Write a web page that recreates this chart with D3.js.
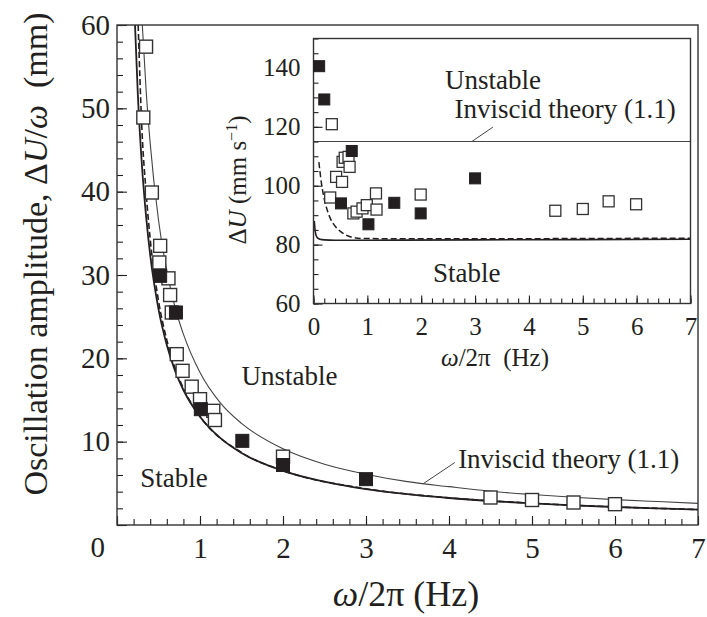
<!DOCTYPE html>
<html>
<head>
<meta charset="utf-8">
<script src="https://cdn.jsdelivr.net/npm/d3@7/dist/d3.min.js"></script>
<style>
  html, body { margin: 0; padding: 0; background: #fff; }
  svg text { font-family: "Liberation Serif", "Times New Roman", serif; fill: #231f20; }
</style>
</head>
<body>
<svg id="chart" width="707" height="617"></svg>
<script>
// ---------------- Data ----------------
// Main panel: oscillation amplitude ΔU/ω (mm) vs ω/2π (Hz)
const mainOpenF   = [0.317, 0.35, 0.42, 0.51, 0.52, 0.62, 0.64, 0.66, 0.72, 0.79, 0.90, 1.00, 1.16, 1.18, 2.00, 4.50, 5.00, 5.50, 6.00];
const mainOpenAmp = [48.9, 57.4, 39.9, 31.5, 33.5, 29.6, 27.6, 25.5, 20.5, 18.5, 16.6, 15.1, 13.7, 12.6, 8.2, 3.3, 3.0, 2.7, 2.5];
const mainFilledF   = [0.52, 0.71, 1.01, 1.51, 2.00, 3.00];
const mainFilledAmp = [29.9, 25.5, 13.9, 10.1, 7.2, 5.5];

// Main panel theory curves
const invMainF   = [0.305, 0.35, 0.4, 0.5, 0.6, 0.7, 0.8, 1.0, 1.25, 1.5, 2.0, 2.5, 3.0, 3.5, 4.0, 4.5, 5.0, 5.5, 6.0, 6.5, 7.0];
const invMainAmp = [60, 52.3, 45.8, 36.6, 30.5, 26.1, 22.9, 18.3, 14.6, 12.2, 9.15, 7.3, 6.1, 5.2, 4.6, 4.05, 3.66, 3.33, 3.05, 2.82, 2.6];
const solMainF   = [0.217, 0.25, 0.3, 0.35, 0.4, 0.5, 0.6, 0.7, 0.8, 1.0, 1.25, 1.5, 2.0, 2.5, 3.0, 3.5, 4.0, 4.5, 5.0, 5.5, 6.0, 6.5, 7.0];
const solMainAmp = [60, 51.9, 43.2, 37.1, 32.4, 25.9, 21.6, 18.5, 16.2, 13.0, 10.4, 8.65, 6.5, 5.2, 4.3, 3.7, 3.24, 2.88, 2.6, 2.36, 2.16, 2.0, 1.85];
const dashMainF   = [0.255, 0.3, 0.35, 0.4, 0.5, 0.6, 0.7, 0.8, 1.0, 1.5, 2.0, 3.0, 4.0, 5.0, 6.0, 7.0];
const dashMainAmp = [60, 47.5, 40.0, 34.3, 26.9, 22.2, 18.8, 16.4, 13.05, 8.7, 6.53, 4.35, 3.26, 2.61, 2.17, 1.86];

// Inset: ΔU (mm s^-1) vs ω/2π (Hz)
const insOpenF  = [0.34, 0.31, 0.42, 0.53, 0.54, 0.58, 0.65, 0.67, 0.74, 0.80, 0.91, 0.99, 1.16, 1.17, 1.99, 4.49, 5.00, 5.48, 5.99];
const insOpenDU = [120.9, 96.0, 103.0, 101.3, 108.1, 109.5, 109.8, 106.4, 90.6, 91.2, 92.3, 93.4, 97.4, 91.9, 97.0, 91.5, 92.1, 94.7, 93.7];
const insFilledF  = [0.105, 0.20, 0.71, 0.51, 1.02, 1.50, 1.99, 3.00];
const insFilledDU = [140.6, 129.3, 111.8, 94.0, 86.9, 94.2, 90.6, 102.5];

const invInsF  = [0, 7];
const invInsDU = [115, 115];
const solInsF  = [0.015, 0.03, 0.05, 0.08, 0.12, 0.2, 0.4, 1.0, 3.0, 7.0];
const solInsDU = [88, 84.8, 83.0, 82.2, 81.8, 81.6, 81.5, 81.5, 81.6, 81.8];
const dashInsF  = [0.10, 0.15, 0.20, 0.25, 0.31, 0.40, 0.50, 0.68, 0.90, 1.5, 3.0, 7.0];
const dashInsDU = [108, 100.5, 95.5, 92.0, 89.0, 86.3, 84.5, 82.7, 82.1, 82.0, 82.0, 82.2];

// Tick values / labels
const mainXMajor = [0, 1, 2, 3, 4, 5, 6, 7];
const mainYMajor = [0, 10, 20, 30, 40, 50, 60];
const insXMajor = [0, 1, 2, 3, 4, 5, 6, 7];
const insYMajor = [60, 80, 100, 120, 140];

const zip = (a, b) => a.map((v, i) => [v, b[i]]);

// ---------------- Layout ----------------
const svg = d3.select("#chart");
const ink = "#231f20";

const mx = d3.scaleLinear().domain([0, 7]).range([117, 698]);
const my = d3.scaleLinear().domain([0, 60]).range([525, 25]);

const ix = d3.scaleLinear().domain([0, 7]).range([313.5, 690.5]);
const iy = d3.scaleLinear().domain([60, 150]).range([303.5, 38.5]);

// ---------------- Main panel ----------------
const defs = svg.append("defs");
defs.append("clipPath").attr("id", "mainClip").append("rect")
  .attr("x", mx(0)).attr("y", my(60)).attr("width", mx(7) - mx(0)).attr("height", my(0) - my(60));
defs.append("clipPath").attr("id", "insClip").append("rect")
  .attr("x", ix(0)).attr("y", iy(150)).attr("width", ix(7) - ix(0)).attr("height", iy(60) - iy(150));

const main = svg.append("g");

const mline = d3.line().x(d => mx(d[0])).y(d => my(d[1])).curve(d3.curveMonotoneX);
const mc = main.append("g").attr("clip-path", "url(#mainClip)");
mc.append("path").datum(zip(invMainF, invMainAmp)).attr("d", mline)
  .attr("fill", "none").attr("stroke", "#444").attr("stroke-width", 1.1);
mc.append("path").datum(zip(solMainF, solMainAmp)).attr("d", mline)
  .attr("fill", "none").attr("stroke", ink).attr("stroke-width", 1.8);
mc.append("path").datum(zip(dashMainF, dashMainAmp)).attr("d", mline)
  .attr("fill", "none").attr("stroke", ink).attr("stroke-width", 1.6).attr("stroke-dasharray", "6,3");

// axes (ticks inward)
function styleAxis(g, fontSize) {
  g.select(".domain").remove();
  g.selectAll(".tick line").attr("stroke", ink).attr("stroke-width", 1.1);
  g.selectAll(".tick text").attr("fill", ink).style("font-size", fontSize + "px")
    .style("font-family", '"Liberation Serif", "Times New Roman", serif');
}

const mXminor = d3.range(0, 7.0001, 0.2).map(v => +v.toFixed(2));
main.append("g").attr("transform", `translate(0,${my(0)})`)
  .call(d3.axisBottom(mx).tickValues(mXminor).tickSize(-6).tickFormat(""))
  .call(g => styleAxis(g, 29));
main.append("g").attr("transform", `translate(0,${my(0)})`)
  .call(d3.axisBottom(mx).tickValues(mainXMajor).tickSize(-9).tickPadding(12)
        .tickFormat(d => d === 0 ? "" : d3.format("d")(d)))
  .call(g => styleAxis(g, 29));

const mYminor = d3.range(0, 60.001, 2);
main.append("g").attr("transform", `translate(${mx(0)},0)`)
  .call(d3.axisLeft(my).tickValues(mYminor).tickSize(-6).tickFormat(""))
  .call(g => styleAxis(g, 29));
const yMajG = main.append("g").attr("transform", `translate(${mx(0)},0)`)
  .call(d3.axisLeft(my).tickValues(mainYMajor).tickSize(-10).tickPadding(7).tickFormat(d3.format("d")))
  .call(g => styleAxis(g, 29));
// shared origin label sits under the corner
yMajG.selectAll(".tick text").filter(d => d === 0).attr("dy", "1.1em").attr("x", -12);

// frame
main.append("rect").attr("x", mx(0)).attr("y", my(60)).attr("width", mx(7) - mx(0)).attr("height", my(0) - my(60))
  .attr("fill", "none").attr("stroke", "#333").attr("stroke-width", 1.4);

// markers
const mSize = 13;
main.append("g").selectAll("rect").data(zip(mainOpenF, mainOpenAmp)).join("rect")
  .attr("x", d => mx(d[0]) - mSize / 2).attr("y", d => my(d[1]) - mSize / 2)
  .attr("width", mSize).attr("height", mSize)
  .attr("fill", "#fff").attr("stroke", "#333").attr("stroke-width", 1.4);
main.append("g").selectAll("rect").data(zip(mainFilledF, mainFilledAmp)).join("rect")
  .attr("x", d => mx(d[0]) - mSize / 2).attr("y", d => my(d[1]) - mSize / 2)
  .attr("width", mSize).attr("height", mSize)
  .attr("fill", ink).attr("stroke", ink).attr("stroke-width", 1);

// annotations
main.append("text").attr("x", mx(1.5)).attr("y", my(16.8)).style("font-size", "27px").text("Unstable");
main.append("text").attr("x", mx(0.28)).attr("y", my(4.6)).style("font-size", "27px").text("Stable");
main.append("text").attr("x", mx(4.11)).attr("y", my(6.84)).style("font-size", "27px").text("Inviscid theory (1.1)");
main.append("line").attr("x1", mx(4.07)).attr("y1", my(7.5)).attr("x2", mx(3.69)).attr("y2", my(4.96))
  .attr("stroke", "#444").attr("stroke-width", 1);

// axis titles
const xt = main.append("text").attr("x", 406).attr("y", 606).attr("text-anchor", "middle").style("font-size", "36px");
xt.append("tspan").style("font-style", "italic").text("ω");
xt.append("tspan").text("/2π (Hz)");

const yt = main.append("text").attr("transform", "translate(47,254) rotate(-90)")
  .attr("text-anchor", "middle").style("font-size", "34px");
yt.append("tspan").text("Oscillation amplitude, Δ");
yt.append("tspan").style("font-style", "italic").text("U");
yt.append("tspan").text("/");
yt.append("tspan").style("font-style", "italic").text("ω");
yt.append("tspan").attr("xml:space", "preserve").text("  (mm)");

// ---------------- Inset ----------------
const ins = svg.append("g");
ins.append("rect").attr("x", ix(0)).attr("y", iy(150)).attr("width", ix(7) - ix(0)).attr("height", iy(60) - iy(150))
  .attr("fill", "#fff");

const iline = d3.line().x(d => ix(d[0])).y(d => iy(d[1])).curve(d3.curveMonotoneX);
const ic = ins.append("g").attr("clip-path", "url(#insClip)");
ic.append("path").datum(zip(invInsF, invInsDU)).attr("d", iline)
  .attr("fill", "none").attr("stroke", "#444").attr("stroke-width", 1.1);
ic.append("path").datum(zip(solInsF, solInsDU)).attr("d", iline)
  .attr("fill", "none").attr("stroke", ink).attr("stroke-width", 1.6);
ic.append("path").datum(zip(dashInsF, dashInsDU)).attr("d", iline)
  .attr("fill", "none").attr("stroke", ink).attr("stroke-width", 1.5).attr("stroke-dasharray", "6,3");

const iXminor = d3.range(0, 7.0001, 0.2).map(v => +v.toFixed(2));
ins.append("g").attr("transform", `translate(0,${iy(60)})`)
  .call(d3.axisBottom(ix).tickValues(iXminor).tickSize(-5).tickFormat(""))
  .call(g => styleAxis(g, 25));
ins.append("g").attr("transform", `translate(0,${iy(60)})`)
  .call(d3.axisBottom(ix).tickValues(insXMajor).tickSize(-8).tickPadding(14).tickFormat(d3.format("d")))
  .call(g => styleAxis(g, 25));
const iYminor = d3.range(60, 150.001, 5);
ins.append("g").attr("transform", `translate(${ix(0)},0)`)
  .call(d3.axisLeft(iy).tickValues(iYminor).tickSize(-5).tickFormat(""))
  .call(g => styleAxis(g, 25));
ins.append("g").attr("transform", `translate(${ix(0)},0)`)
  .call(d3.axisLeft(iy).tickValues(insYMajor).tickSize(-9).tickPadding(13).tickFormat(d3.format("d")))
  .call(g => styleAxis(g, 25));

ins.append("rect").attr("x", ix(0)).attr("y", iy(150)).attr("width", ix(7) - ix(0)).attr("height", iy(60) - iy(150))
  .attr("fill", "none").attr("stroke", "#333").attr("stroke-width", 1.4);

const iSize = 11;
ins.append("g").selectAll("rect").data(zip(insOpenF, insOpenDU)).join("rect")
  .attr("x", d => ix(d[0]) - iSize / 2).attr("y", d => iy(d[1]) - iSize / 2)
  .attr("width", iSize).attr("height", iSize)
  .attr("fill", "#fff").attr("stroke", "#333").attr("stroke-width", 1.3);
ins.append("g").selectAll("rect").data(zip(insFilledF, insFilledDU)).join("rect")
  .attr("x", d => ix(d[0]) - iSize / 2).attr("y", d => iy(d[1]) - iSize / 2)
  .attr("width", iSize).attr("height", iSize)
  .attr("fill", ink).attr("stroke", ink).attr("stroke-width", 1);

ins.append("text").attr("x", ix(2.44)).attr("y", iy(132.8)).style("font-size", "27px").text("Unstable");
ins.append("text").attr("x", ix(2.62)).attr("y", iy(122.9)).style("font-size", "27px").text("Inviscid theory (1.1)");
ins.append("line").attr("x1", ix(3.33)).attr("y1", iy(119.9)).attr("x2", ix(2.94)).attr("y2", iy(115))
  .attr("stroke", "#444").attr("stroke-width", 1);
ins.append("text").attr("x", ix(2.22)).attr("y", iy(67.3)).style("font-size", "27px").text("Stable");

const ixt = ins.append("text").attr("x", 495).attr("y", 366).attr("text-anchor", "middle").style("font-size", "25px");
ixt.append("tspan").style("font-style", "italic").text("ω");
ixt.append("tspan").attr("xml:space", "preserve").text("/2π  (Hz)");

const iyt = ins.append("text").attr("transform", "translate(246,180) rotate(-90)")
  .attr("text-anchor", "middle").style("font-size", "25px");
iyt.append("tspan").text("Δ");
iyt.append("tspan").style("font-style", "italic").text("U");
iyt.append("tspan").attr("xml:space", "preserve").text(" (mm s");
iyt.append("tspan").attr("dy", -9).style("font-size", "16px").text("−1");
iyt.append("tspan").attr("dy", 9).text(")");
</script>
</body>
</html>
